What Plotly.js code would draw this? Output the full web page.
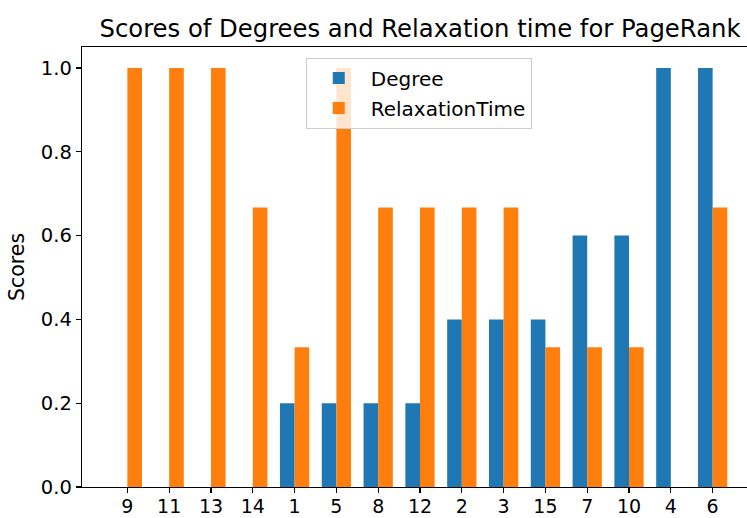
<!DOCTYPE html>
<html>
<head>
<meta charset="utf-8">
<script src="https://cdn.plot.ly/plotly-3.0.1.min.js"></script>
<style>
html,body{margin:0;padding:0;overflow:hidden;background:#fff;}
#chart{width:770px;height:518px;}
</style>
</head>
<body>
<div id="chart"></div>
<script>
const categories = ["9","11","13","14","1","5","8","12","2","3","15","7","10","4","6"];
const degreeScores = [0,0,0,0,0.2,0.2,0.2,0.2,0.4,0.4,0.4,0.6,0.6,1.0,1.0];
const relaxationScores = [1.0,1.0,1.0,0.6667,0.3333,1.0,0.6667,0.6667,0.6667,0.6667,0.3333,0.3333,0.3333,0,0.6667];
const yTickVals = [0,0.2,0.4,0.6,0.8,1.0];

const font = {family:"DejaVu Sans, sans-serif", color:"#000"};

const traces = [
  {type:"bar", name:"Degree", x:categories, y:degreeScores, legendgroup:"a",
   marker:{color:"#1f77b4", line:{width:0}}, hoverinfo:"skip"},
  {type:"bar", name:"RelaxationTime", x:categories, y:relaxationScores, legendgroup:"b",
   marker:{color:"#ff7f0e", line:{width:0}}, hoverinfo:"skip"}
];

const layout = {
  width:770, height:518,
  margin:{l:82, r:12, t:47, b:31, pad:0},
  paper_bgcolor:"#fff", plot_bgcolor:"#fff",
  font:Object.assign({size:20}, font),
  barmode:"group", bargap:0.3, bargroupgap:0,
  title:{text:"Scores of Degrees and Relaxation time for PageRank",
         font:Object.assign({size:24.3}, font),
         xref:"paper", x:0.5, xanchor:"center",
         yref:"container", y:0.945, yanchor:"middle"},
  xaxis:{type:"category", range:[-1.085, 15.085], showgrid:false, zeroline:false,
         showline:true, linecolor:"#000", linewidth:1.3, mirror:true,
         ticks:"outside", ticklen:5, tickwidth:1.3, tickcolor:"#000",
         ticklabelstandoff:-3,
         tickfont:Object.assign({size:19}, font)},
  yaxis:{range:[0,1.05], tickvals:yTickVals, tickformat:".1f", showgrid:false, zeroline:false,
         showline:true, linecolor:"#000", linewidth:1.3, mirror:true,
         ticks:"outside", ticklen:5, tickwidth:1.3, tickcolor:"#000",
         tickfont:Object.assign({size:19.5}, font),
         title:{text:"Scores", font:Object.assign({size:20.5}, font), standoff:10}},
  legend:{x:0.331, y:0.976, xanchor:"left", yanchor:"top", traceorder:"grouped",
          bgcolor:"rgba(255,255,255,0.8)", bordercolor:"#cccccc", borderwidth:1,
          font:Object.assign({size:20}, font), itemwidth:54, tracegroupgap:1},
  showlegend:true
};

Plotly.newPlot("chart", traces, layout, {displayModeBar:false, staticPlot:true});
</script>
</body>
</html>
